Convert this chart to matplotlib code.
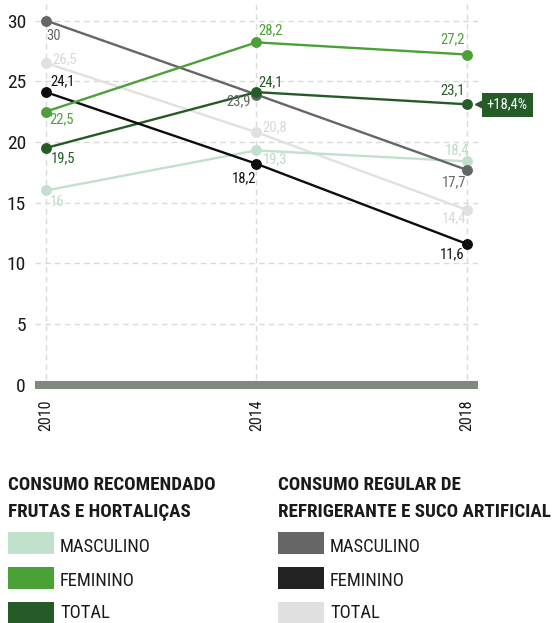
import matplotlib
matplotlib.use('Agg')
import matplotlib.pyplot as plt
from matplotlib import font_manager as fm
import matplotlib.transforms as mtransforms
from matplotlib.patches import Rectangle

# ---------------- data ----------------
years = [2010, 2014, 2018]
fruta_masc = [16.0, 19.3, 18.4]
fruta_fem = [22.5, 28.2, 27.2]
fruta_total = [19.5, 24.1, 23.1]
refri_masc = [30.0, 23.9, 17.7]
refri_fem = [24.1, 18.2, 11.6]
refri_total = [26.5, 20.8, 14.4]
y_ticks = [0, 5, 10, 15, 20, 25, 30]
title_fruta = ["CONSUMO RECOMENDADO", "FRUTAS E HORTALIÇAS"]
title_refri = ["CONSUMO REGULAR DE", "REFRIGERANTE E SUCO ARTIFICIAL"]
legend_labels = ["MASCULINO", "FEMININO", "TOTAL"]
highlight_text = "+18,4%"

# ---------------- font ----------------
names = {f.name for f in fm.fontManager.ttflist}
if 'Roboto Condensed' in names:
    FONT = dict(family=['Roboto Condensed', 'DejaVu Sans'])
elif 'Liberation Sans Narrow' in names:
    FONT = dict(family=['Liberation Sans Narrow', 'DejaVu Sans'])
else:
    FONT = dict(family=['DejaVu Sans'], stretch='condensed')

W, H = 560, 623
fig = plt.figure(figsize=(W / 100, H / 100), dpi=100)


def fx(px):
    return px / W


def fy(py):
    return 1 - py / H


ax_l, ax_r, ax_t, ax_b = 35, 477.7, 0, 389.3
ax = fig.add_axes([fx(ax_l), fy(ax_b), (ax_r - ax_l) / W, (ax_b - ax_t) / H])
ax.set_xlim(2009.791, 2018.209)
ax.set_ylim(-0.38, 31.69)
for s in ax.spines.values():
    s.set_visible(False)

grid_c = '#dadada'
for yv in y_ticks[1:]:
    ax.axhline(yv, color=grid_c, lw=1, ls=(0, (4, 3)), zorder=0)
for xv in years:
    ax.axvline(xv, color=grid_c, lw=1, ls=(0, (4, 3)), zorder=0)
ax.axhline(0, color='#7f897d', lw=5.8, zorder=1, solid_capstyle='butt')

ax.set_yticks(y_ticks)
ax.set_yticklabels([str(v) for v in y_ticks])
ax.set_xticks(years)
ax.set_xticklabels([str(y) for y in years], rotation=90)
ax.tick_params(axis='y', length=0, pad=6.5, labelsize=14, labelcolor='#1a1a1a')
ax.tick_params(axis='x', length=0, pad=7, labelsize=11.5, labelcolor='#1a1a1a')
for lab in ax.get_yticklabels() + ax.get_xticklabels():
    lab.set_fontfamily(FONT['family'])
    if 'stretch' in FONT:
        lab.set_fontstretch(FONT['stretch'])
for lab in ax.get_xticklabels():
    lab.set_va('top')


def fmt(v):
    s = f"{v:.1f}".replace('.', ',')
    return s[:-2] if s.endswith(',0') else s


series = [
    # values, line color, label color, zorder, label offsets (px, y down)
    (refri_total, '#e1e1e1', '#d9d9d9', 2, [(19, -3.5), (18.5, -4.5), (-13, 8.7)]),
    (fruta_masc, '#c1e1cd', '#bcdcc8', 3, [(11, 11.7), (19, 9), (-10, -11.5)]),
    (refri_masc, '#666666', '#666666', 4, [(8, 15), (-17.7, 6.3), (-12.7, 12.7)]),
    (fruta_total, '#245b27', '#245b27', 5, [(17, 10.5), (14, -9.4), (-13.7, -13.7)]),
    (refri_fem, '#0d0d0d', '#111111', 6, [(16.5, -11), (-12, 14.3), (-15, 10)]),
    (fruta_fem, '#4aa136', '#4aa136', 7, [(16, 8), (14.7, -11.7), (-14.5, -15.3)]),
]

for vals, lc, tc, z, offs in series:
    ax.plot(years, vals, color=lc, lw=1.7, marker='o', ms=6.8, zorder=z, clip_on=False)
    for xv, yv, (dx, dy) in zip(years, vals, offs):
        ax.annotate(fmt(yv), (xv, yv), xytext=(dx, -dy), textcoords='offset pixels',
                    ha='center', va='center', fontsize=10.5, color=tc, zorder=10, **FONT)

# highlight box
hx, hy = years[-1], fruta_total[-1]
ax.annotate(highlight_text, (hx, hy), xytext=(40.5, -0.5), textcoords='offset pixels',
            ha='center', va='center', fontsize=10.5, color='white', zorder=12,
            bbox=dict(boxstyle='square,pad=0.35', fc='#245b27', ec='none'),
            annotation_clip=False, **FONT)
tri_tr = mtransforms.offset_copy(ax.transData, fig=fig, x=13.5, y=0.5, units='dots')
ax.plot([hx], [hy], marker='<', ms=7, color='#245b27', transform=tri_tr, clip_on=False, zorder=11)

# ---------------- legend ----------------
title_kw = dict(fontsize=13.7, color='#1a1a1a', fontweight='bold', va='baseline', ha='left')
item_kw = dict(fontsize=13.3, color='#1a1a1a', va='baseline', ha='left')

fruta_colors = ['#c1e1cd', '#4aa136', '#245b27']
refri_colors = ['#666666', '#222222', '#e1e1e1']
item_baselines = [552, 586, 618]

for col_x, titles, cols in [(8, title_fruta, fruta_colors), (278, title_refri, refri_colors)]:
    fig.text(fx(col_x), fy(490), titles[0], **title_kw, **FONT)
    fig.text(fx(col_x), fy(517), titles[1], **title_kw, **FONT)
    for i, (lab, c) in enumerate(zip(legend_labels, cols)):
        top = 532 + i * 35
        fig.patches.append(Rectangle((fx(col_x), fy(top + 22)), 46 / W, 22 / H,
                                     transform=fig.transFigure, fc=c, ec='none'))
        fig.text(fx(col_x + 52), fy(item_baselines[i]), lab, **item_kw, **FONT)

fig.savefig('out.png', dpi=100)
